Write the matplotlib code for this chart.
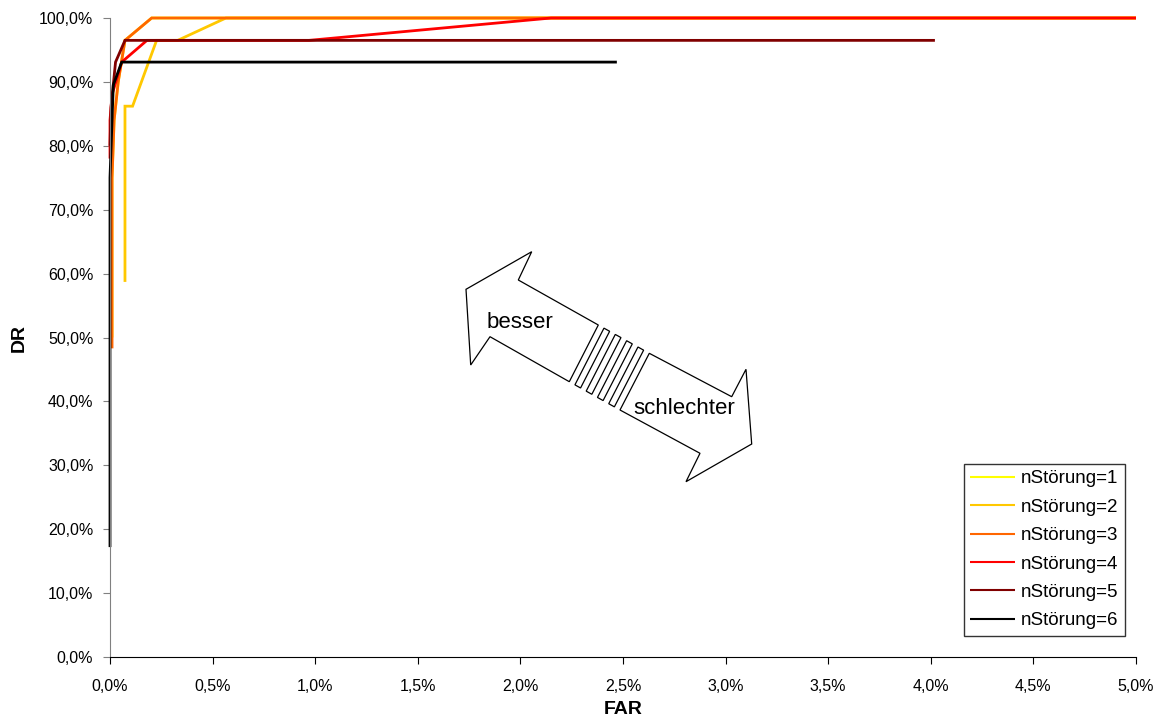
import numpy as np
import matplotlib.pyplot as plt
from matplotlib.patches import Polygon
from matplotlib.ticker import FuncFormatter, MultipleLocator

plt.rcParams['font.family'] = ['Liberation Sans', 'DejaVu Sans']

# FAR [%] / DR [%] pro Anzahl Störungen
far1 = [0.01, 0.01, 0.02, 0.04, 0.073, 0.203, 5.0]
dr1 = [50.0, 75.0, 84.0, 90.0, 96.5, 100.0, 100.0]
far2 = [0.073, 0.073, 0.11, 0.227, 0.33, 0.565, 5.0]
dr2 = [58.7, 86.2, 86.2, 96.5, 96.5, 100.0, 100.0]
far3 = [0.01, 0.01, 0.02, 0.04, 0.073, 0.203, 5.0]
dr3 = [48.3, 75.0, 84.0, 90.0, 96.5, 100.0, 100.0]
far4 = [0.0, 0.0, 0.01, 0.057, 0.18, 0.97, 2.15, 5.0]
dr4 = [78.0, 84.0, 88.0, 93.1, 96.5, 96.5, 100.0, 100.0]
far5 = [0.0, 0.005, 0.027, 0.073, 4.02]
dr5 = [80.0, 86.0, 93.1, 96.5, 96.5]
far6 = [0.0, 0.0, 0.016, 0.057, 2.47]
dr6 = [17.2, 75.0, 89.5, 93.1, 93.1]

labels = ['nStörung=%d' % i for i in range(1, 7)]
colors = ['#FFFF00', '#FFC800', '#FF6600', '#FF0000', '#800000', '#000000']
series = [(far1, dr1), (far2, dr2), (far3, dr3), (far4, dr4), (far5, dr5), (far6, dr6)]

W, H = 1160, 720
fig = plt.figure(figsize=(W / 100, H / 100), dpi=100)
ax = fig.add_axes([110 / W, 1 - 657 / H, (1136 - 110) / W, (657 - 18) / H])

for (x, y), c, lab in zip(series, colors, labels):
    ax.plot(x, y, color=c, lw=2.0, label=lab, solid_joinstyle='miter',
            solid_capstyle='butt', clip_on=False)

ax.set_xlim(0, 5)
ax.set_ylim(0, 100)
ax.xaxis.set_major_locator(MultipleLocator(0.5))
ax.yaxis.set_major_locator(MultipleLocator(10))
fmt = FuncFormatter(lambda v, p: ('%.1f%%' % v).replace('.', ','))
ax.xaxis.set_major_formatter(fmt)
ax.yaxis.set_major_formatter(fmt)
ax.tick_params(axis='both', direction='out', length=5, labelsize=11.5)
ax.tick_params(axis='x', pad=11)
ax.tick_params(axis='y', color='#808080', pad=7)
for s in ['top', 'right']:
    ax.spines[s].set_visible(False)
ax.spines['left'].set_color('#808080')
ax.spines['bottom'].set_color('black')
ax.set_xlabel('FAR', fontsize=14, fontweight='bold', labelpad=5)
ax.set_ylabel('DR', fontsize=14, fontweight='bold', labelpad=8)

leg = ax.legend(loc='lower right', bbox_to_anchor=(1015 / 1026, 0.033), frameon=True,
                fancybox=False, edgecolor='black', fontsize=13.5, handlelength=2.4,
                labelspacing=0.6, borderpad=0.35, handletextpad=0.3,
                borderaxespad=0.0)
leg.get_frame().set_linewidth(1.0)
for ln in leg.get_lines():
    ln.set_linewidth(1.5)


# Doppelpfeil "besser" / "schlechter" in Pixelkoordinaten
def px(pts):
    return [(x / W, 1 - y / H) for x, y in pts]


left_part = [(466, 289.3), (531.7, 251.7), (518.3, 280), (598.3, 325),
             (569.3, 381.7), (490, 336.7), (470.7, 365)]
right_part = [(649.3, 353.3), (731.7, 396.7), (746, 369.3), (751.7, 444),
              (686, 481.7), (700, 453.3), (620, 410)]
for part in (left_part, right_part):
    fig.add_artist(Polygon(px(part), closed=True, fill=False, ec='black',
                           lw=0.9, transform=fig.transFigure))

top0, top1 = np.array([598.3, 325]), np.array([649.3, 353.3])
bot0, bot1 = np.array([569.3, 381.7]), np.array([620, 410])
for i in range(4):
    t0 = (2 * i + 1) / 9
    t1 = (2 * i + 2) / 9
    pts = [top0 + t0 * (top1 - top0), top0 + t1 * (top1 - top0),
           bot0 + t1 * (bot1 - bot0), bot0 + t0 * (bot1 - bot0)]
    fig.add_artist(Polygon(px(pts), closed=True, fill=False, ec='black',
                           lw=0.9, transform=fig.transFigure))

fig.text(520 / W, 1 - 323 / H, 'besser', fontsize=16, ha='center', va='center')
fig.text(684 / W, 1 - 408 / H, 'schlechter', fontsize=16, ha='center', va='center')

fig.savefig('out.png', dpi=100)
